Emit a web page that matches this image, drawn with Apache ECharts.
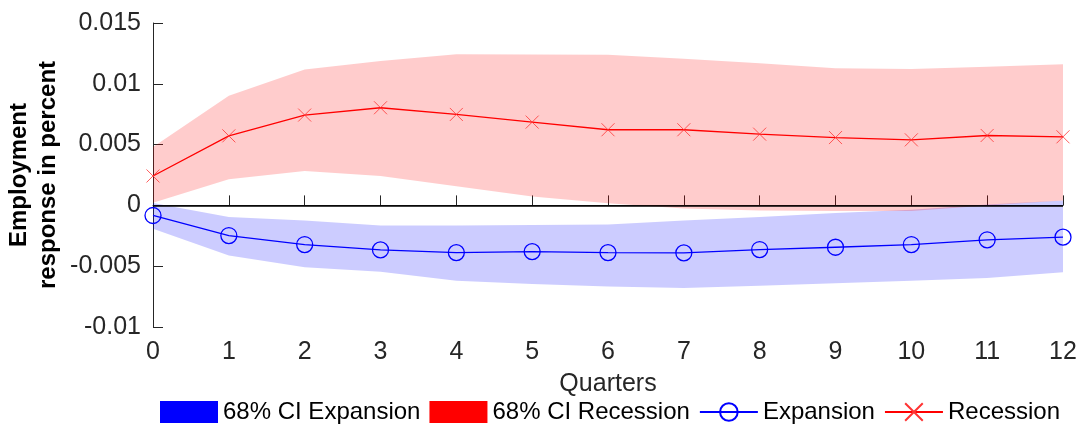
<!DOCTYPE html>
<html>
<head>
<meta charset="utf-8">
<script src="https://cdn.jsdelivr.net/npm/echarts@6/dist/echarts.min.js"></script>
<style>
  html, body { margin: 0; padding: 0; background: #fff; }
  #chart { width: 1081px; height: 425px; }
</style>
</head>
<body>
<div id="chart"></div>
<script>
const quarters = [0, 1, 2, 3, 4, 5, 6, 7, 8, 9, 10, 11, 12];
const expansion = [-0.00083, -0.00248, -0.00322, -0.00366, -0.00388, -0.0038, -0.00388, -0.0039, -0.00363, -0.00344, -0.00322, -0.00283, -0.00261];
const recession = [0.00242, 0.00572, 0.00743, 0.00803, 0.00748, 0.00685, 0.00622, 0.00622, 0.00586, 0.00558, 0.00539, 0.00575, 0.00564];
const expUpper = [0.0002, -0.00096, -0.00124, -0.00165, -0.00165, -0.00162, -0.00157, -0.00124, -0.00096, -0.00063, -0.00036, 0.00008, 0.00041];
const expLower = [-0.00193, -0.00413, -0.00509, -0.00545, -0.00619, -0.00646, -0.00666, -0.00679, -0.0066, -0.00641, -0.00619, -0.00597, -0.0055];
const recUpper = [0.00481, 0.00902, 0.01117, 0.01188, 0.01243, 0.0124, 0.01238, 0.01207, 0.01169, 0.01128, 0.01122, 0.01141, 0.01161];
const recLower = [0.00022, 0.00215, 0.00283, 0.00242, 0.00157, 0.00074, 0.00018, -0.00025, -0.00041, -0.00047, -0.00047, 0, 0.00041];

const font = "'Liberation Sans', Arial, Helvetica, sans-serif";
const axisColor = '#262626';

// polygon band between upper and lower through the axes
function band(upper, lower, fill) {
  return function (params, api) {
    const pts = [];
    quarters.forEach(function (q, i) { pts.push(api.coord([q, upper[i]])); });
    for (let i = quarters.length - 1; i >= 0; i--) pts.push(api.coord([quarters[i], lower[i]]));
    return { type: 'polygon', shape: { points: pts }, style: { fill: fill } };
  };
}

const myChart = echarts.init(document.getElementById('chart'));

myChart.setOption({
  animation: false,
  textStyle: { fontFamily: font },
  grid: { left: 153, right: 18, top: 23, bottom: 98 },
  legend: {
    left: 160,
    top: 400,
    padding: 0,
    itemGap: 9,
    itemWidth: 58,
    itemHeight: 22,
    textStyle: { fontFamily: font, fontSize: 24, color: '#000' },
    data: [
      { name: '68% CI Expansion', icon: 'rect' },
      { name: '68% CI Recession', icon: 'rect' },
      { name: 'Expansion' },
      { name: 'Recession' }
    ]
  },
  graphic: [{
    type: 'text',
    x: 34,
    y: 175,
    rotation: Math.PI / 2,
    style: {
      text: 'Employment\nresponse in percent',
      fontFamily: font,
      fontSize: 24,
      fontWeight: 'bold',
      lineHeight: 29,
      fill: '#000',
      align: 'center',
      verticalAlign: 'middle'
    }
  }],
  xAxis: {
    type: 'value',
    min: 0,
    max: 12,
    interval: 1,
    name: 'Quarters',
    nameLocation: 'middle',
    nameGap: 45,
    nameTextStyle: { fontFamily: font, fontSize: 25, color: axisColor },
    axisLine: { lineStyle: { color: axisColor, width: 1 } },
    axisTick: { inside: true, length: 10, lineStyle: { color: axisColor } },
    axisLabel: { margin: 13, fontSize: 25, color: axisColor, fontFamily: font },
    splitLine: { show: false }
  },
  yAxis: {
    type: 'value',
    min: -0.01,
    max: 0.015,
    interval: 0.005,
    axisLine: { show: true, lineStyle: { color: axisColor, width: 1 } },
    axisTick: { show: true, inside: true, length: 10, lineStyle: { color: axisColor } },
    axisLabel: { margin: 12, fontSize: 25, color: axisColor, fontFamily: font },
    splitLine: { show: false }
  },
  series: [
    {
      name: '68% CI Expansion',
      type: 'custom',
      renderItem: band(expUpper, expLower, 'rgba(0,0,255,0.2)'),
      itemStyle: { color: '#0000ff' },
      data: [[0, 0]],
      silent: true,
      z: 1
    },
    {
      name: '68% CI Recession',
      type: 'custom',
      renderItem: band(recUpper, recLower, 'rgba(255,0,0,0.2)'),
      itemStyle: { color: '#ff0000' },
      data: [[0, 0]],
      silent: true,
      z: 1
    },
    {
      name: 'Expansion',
      type: 'line',
      data: quarters.map(function (q, i) { return [q, expansion[i]]; }),
      symbol: 'circle',
      symbolSize: 16,
      lineStyle: { color: '#0000ff', width: 1.3 },
      itemStyle: { color: 'transparent', borderColor: '#0000ff', borderWidth: 1.3 },
      z: 3,
      markLine: {
        silent: true,
        symbol: 'none',
        label: { show: false },
        lineStyle: { color: '#000', width: 1.5, type: 'solid' },
        data: [{ yAxis: 0 }]
      }
    },
    {
      name: 'Recession',
      type: 'line',
      data: quarters.map(function (q, i) { return [q, recession[i]]; }),
      symbol: 'path://M0,0L10,10M10,0L0,10',
      symbolSize: 13,
      lineStyle: { color: '#ff0000', width: 1.3 },
      itemStyle: { color: '#ff0000', borderColor: '#ff3333', borderWidth: 0.8 },
      z: 3
    }
  ]
});
</script>
</body>
</html>
